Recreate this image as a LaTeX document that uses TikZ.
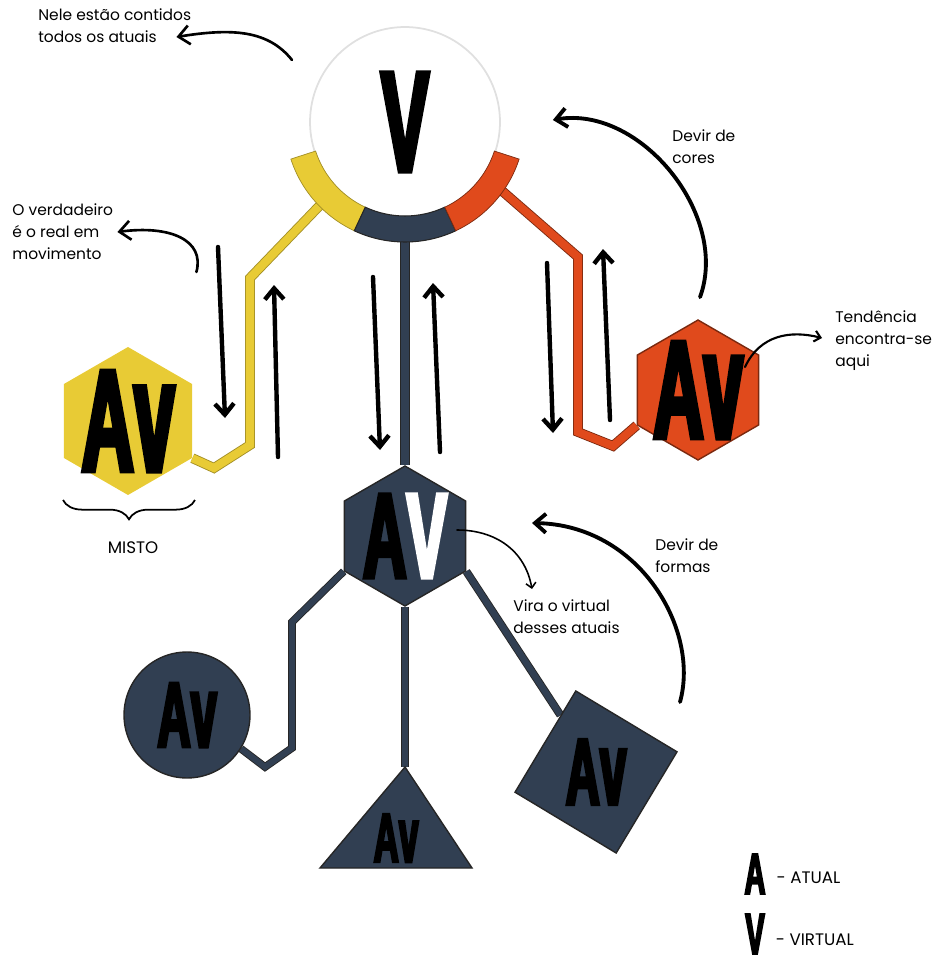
\documentclass[tikz,border=0pt]{standalone}
\usepackage{fontspec}
\setmainfont{Poppins}
\newfontfamily\handfont[FakeStretch=0.5,FakeBold=3]{Liberation Sans Bold}
\usepackage{tikz}
\usetikzlibrary{arrows.meta,shapes.geometric,decorations.pathreplacing,backgrounds,positioning}
\definecolor{mistoyellow}{HTML}{E8CB35}
\definecolor{tendred}{HTML}{E04A1C}
\definecolor{slate}{HTML}{313F52}
\newcommand\handsize[1]{\handfont\fontsize{#1}{#1}\selectfont}
\newcommand\av{A\scalebox{1}[1.1]{v}}

\begin{document}
\begin{tikzpicture}[x=0.02cm,y=-0.02cm,>={Straight Barb[length=2.2mm,width=3.8mm]},
  note/.style={font=\fontsize{8.8}{12.5}\selectfont,align=left,anchor=west,inner sep=0pt},
  caps/.style={font=\fontsize{9.5}{10}\selectfont,inner sep=0pt},
  hexa/.style={regular polygon,regular polygon sides=6,shape border rotate=30,inner sep=0pt},
  handline/.style={line width=2.5pt,line cap=round,->},
  yline/.style={draw=mistoyellow!70!black,double=mistoyellow,double distance=4.6pt,line width=0.5pt},
  rline/.style={draw=tendred!55!black,double=tendred,double distance=4.6pt,line width=0.5pt},
  dline/.style={draw=black!85,double=slate,double distance=4.6pt,line width=0.5pt}]
\useasboundingbox (0,0) rectangle (950,973);

% shapes
\node[circle,fill=white,draw=black!12,line width=1pt,minimum size=3.8cm,inner sep=0pt,font=\handsize{82}] (virt) at (405,122) {V};
\node[hexa,fill=mistoyellow,minimum size=2.96cm,label={[font=\handsize{83}]center:\av}] (misto) at (128,421) {};
\node[hexa,fill=tendred,draw=tendred!55!black,line width=0.8pt,minimum size=2.8cm,label={[font=\handsize{80}]center:\av}] (tend) at (698,390) {};
\node[hexa,fill=slate,draw=black!85,line width=0.8pt,minimum size=2.8cm,label={[font=\handsize{69}]center:A\textcolor{white}{V}}] (atual) at (405,536) {};
\node[circle,fill=slate,draw=black!85,line width=0.8pt,minimum size=2.52cm,inner sep=0pt,label={[font=\handsize{53}]center:\av}] (circ) at (187,715) {};
\node[regular polygon,regular polygon sides=4,shape border rotate=-31,fill=slate,draw=black!85,line width=0.8pt,minimum size=3.34cm,inner sep=0pt,label={[font=\handsize{54}]center:\av}] (sq) at (596,772) {};
\coordinate (triapex) at (405,767);
\fill[slate,draw=black!85,line width=0.8pt] (triapex) -- (472,868) -- (320,868) -- cycle;
\node[font=\handsize{40}] (tri) at (396,838) {\av};

% connectors
\begin{scope}[on background layer]
\draw[yline] (virt.224) -- (250,278) -- (250,445) -- (214,468) -- (misto.-30);
\draw[rline] (virt.-34) -- (578,257) -- (578,432) -- (613,446) -- (tend.210);
\draw[dline] (virt.south) -- (atual.90);
\draw[dline,double distance=3.4pt] (atual.210) -- (292,622) -- (292,748) -- (265,767) -- (circ.-32);
\draw[dline,double distance=3.4pt] (atual.-90) -- (triapex);
\draw[dline,double distance=3.6pt] (atual.-30) -- (sq.122);
\end{scope}

% ring round V
\fill[mistoyellow,draw=mistoyellow!70!black,line width=0.4pt,shift={(virt.center)}] (115:94) arc[start angle=115,end angle=162,radius=94] -- (162:120) arc[start angle=162,end angle=115,radius=120] -- cycle;
\fill[slate,draw=black!85,line width=0.6pt,shift={(virt.center)}] (65:94) arc[start angle=65,end angle=115,radius=94] -- (115:120) arc[start angle=115,end angle=65,radius=120] -- cycle;
\fill[tendred,draw=tendred!55!black,line width=0.4pt,shift={(virt.center)}] (18:94) arc[start angle=18,end angle=65,radius=94] -- (65:120) arc[start angle=65,end angle=18,radius=120] -- cycle;

% texts
\node[note] (nele) at (38,26) {Nele estão contidos\\todos os atuais};
\node[note] (verd) at (12,232) {O verdadeiro\\é o real em\\movimento};
\node[note] (cores) at (672,147) {Devir de\\cores};
\node[note] (tendtxt) at (835,341) {Tendência\\encontra-se\\aqui};
\node[note] (vira) at (513,617) {Vira o virtual\\desses atuais};
\node[note] (formas) at (655,556) {Devir de\\formas};
\node[caps] (mistotxt) at (133,548) {MISTO};
\draw[decorate,decoration={brace,mirror,amplitude=11pt},line width=1pt] (63,500) -- (195,500);

% hand drawn arrows
\draw[handline] (218,247) -- (225,418);
\draw[handline] (278,457) -- (274,285);
\draw[handline] (373,277) -- (380,450);
\draw[handline] (440,452) -- (433,283);
\draw[handline] (547,263) -- (553,433);
\draw[handline] (610,420) -- (603,249);
\draw[->,line width=1.5pt,line cap=round] ([shift={(-113,-62)}]virt.center) .. controls (268,30) and (232,28) .. ([shift={(-15,11)}]nele.east);
\draw[->,line width=1.5pt,line cap=round] ([shift={(83,40)}]verd.east) .. controls (205,240) and (170,225) .. ([shift={(4,0)}]verd.east);
\draw[->,line width=2.2pt,line cap=round] ([shift={(2,-22)}]tend.90) .. controls (730,215) and (640,105) .. ([shift={(52,-2)}]virt.east);
\draw[-{Straight Barb[length=1.2mm,width=2.2mm]},line width=1.2pt,line cap=round] ([shift={(47,-23)}]tend.center) .. controls (760,335) and (790,330) .. ([shift={(-13,-3)}]tendtxt.west);
\draw[->,line width=2.2pt,line cap=round] ([shift={(84,-70)}]sq.center) .. controls (700,630) and (640,525) .. ([shift={(127,-13)}]atual.center);
\draw[-{Straight Barb[length=1mm,width=2mm]},line width=0.9pt,line cap=round] ([shift={(52,-6)}]atual.center) .. controls (495,530) and (525,550) .. ([shift={(19,-28)}]vira.west);

% legend
\node[font=\handsize{33},inner sep=0pt] (legA) at (755,874) {A};
\node[caps,right=6pt of legA,yshift=-2pt] (legAtxt) {- ATUAL};
\node[font=\handsize{33},inner sep=0pt] (legV) at (755,934) {V};
\node[caps,right=6pt of legV,yshift=-3pt] (legVtxt) {- VIRTUAL};
\end{tikzpicture}
\end{document}
